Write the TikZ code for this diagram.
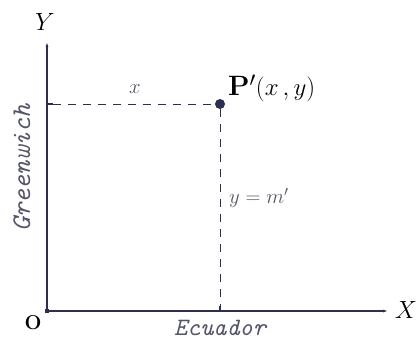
\documentclass[tikz,border=0pt]{standalone}
\usetikzlibrary{arrows.meta}
\definecolor{axiscol}{HTML}{2E2E4E}
\definecolor{labcol}{HTML}{55556A}
\begin{document}
\begin{tikzpicture}[x=1pt,y=-1pt,
  axis/.style={draw=axiscol,line width=1.4pt,-{Latex[length=5pt,width=3pt]}},
  dashline/.style={draw=axiscol,line width=1pt,dash pattern=on 8pt off 7pt},
  biglab/.style={text=black,font=\fontsize{28}{30}\selectfont\itshape,inner sep=0pt},
  italab/.style={text=labcol,font=\fontsize{25}{27}\selectfont\ttfamily\itshape,inner sep=0pt},
  mathlab/.style={text=labcol,font=\fontsize{22}{24}\selectfont,inner sep=0pt}]
\useasboundingbox (0,0) rectangle (417,341);
\coordinate (O) at (47,311);
\coordinate (Ytop) at (47,42);
\coordinate (Xend) at (388,311);
\coordinate (Yp) at (47,104);
\coordinate (Xp) at (220,311);
\node[circle,fill=axiscol,inner sep=0pt,minimum size=10pt] (P) at (220,104) {};
\draw[axis] (O) -- (Ytop);
\draw[axis] (O) -- (Xend);
\fill[axiscol] (O) ++(-2,-2) rectangle ++(4,4);
\draw[axiscol,line width=1.2pt] (Yp) -- ++(6,0);
\draw[axiscol,line width=1.2pt] (Xp) -- ++(0,-5);
\draw[dashline] (Yp) ++(6,0) -- (P);
\draw[dashline] (P) -- (Xp);
\node[biglab] (Ylab) at (45,22) {$Y$};
\node[biglab] (Xlab) at (406,310) {$X$};
\node[text=black,font=\fontsize{20}{22}\selectfont\bfseries,inner sep=0pt] (Olab) at (33,323) {O};
\node[text=black,font=\fontsize{28}{30}\selectfont,inner sep=0pt,anchor=west] (Plab) at (228,88) {\textbf{P}$'(x\,,y)$};
\node[mathlab] (xlab) at (135,89) {$x$};
\node[mathlab,anchor=west] (ylab) at (229,198) {$y=m'$};
\node[italab] (eq) at (220,328) {Ecuador};
\node[italab,rotate=90,font=\fontsize{27}{29}\selectfont\ttfamily\itshape] (gw) at (22,168) {Greenwich};
\end{tikzpicture}
\end{document}
